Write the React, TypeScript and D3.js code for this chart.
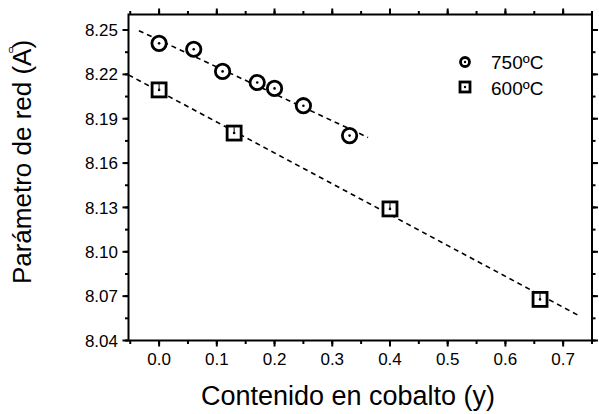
import React from "react";
import * as d3 from "d3";

// Cobalt content (y) and lattice parameter (Å)
const x750 = [0.0, 0.06, 0.11, 0.17, 0.2, 0.25, 0.33];
const a750 = [8.241, 8.237, 8.222, 8.2145, 8.2105, 8.1988, 8.1786];
const x600 = [0.0, 0.13, 0.4, 0.66];
const a600 = [8.2095, 8.1803, 8.129, 8.0678];
const err600 = [0.004, 0.004, 0.004, 0.004];

// Linear fits: [intercept, slope, xStart, xEnd]
const fit750 = [8.2432, -0.182, -0.035, 0.362];
const fit600 = [8.2086, -0.2087, -0.053, 0.725];

const xTicks = [0.0, 0.1, 0.2, 0.3, 0.4, 0.5, 0.6, 0.7];
const yTicks = [8.04, 8.07, 8.1, 8.13, 8.16, 8.19, 8.22, 8.25];
const legendLabels = ["750ºC", "600ºC"];

const W = 599;
const H = 414;
const L = 128.5;
const R = 592;
const T = 14.5;
const B = 340.5;
const FONT = "'Liberation Sans', Arial, Helvetica, sans-serif";

export default function App() {
  const x = d3.scaleLinear().domain([-0.053, 0.75]).range([L, R]);
  const y = d3.scaleLinear().domain([8.04, 8.2605]).range([B, T]);

  const xMinor = d3.range(-0.05, 0.751, 0.05).filter((v) => x(v) >= L - 0.5 && x(v) <= R + 0.5);
  const yMinor = d3.range(8.04, 8.261, 0.015);

  const fitPath = (f: number[]) => {
    const [b0, b1, xs, xe] = f;
    return `M${x(xs)},${y(b0 + b1 * xs)}L${x(xe)},${y(b0 + b1 * xe)}`;
  };

  const major = 6;
  const minor = 3.5;

  return (
    <svg width={W} height={H} style={{ display: "block", position: "absolute", left: 0, top: 0, background: "#fff" }} fontFamily={FONT}>
      <rect x={0} y={0} width={W} height={H} fill="#fff" />
      {/* fit lines */}
      <path d={fitPath(fit750)} stroke="#000" strokeWidth={1.6} strokeDasharray="5,4" fill="none" />
      <path d={fitPath(fit600)} stroke="#000" strokeWidth={1.6} strokeDasharray="5,4" fill="none" />

      {/* 750 ºC points */}
      {x750.map((v, i) => (
        <g key={"c" + i}>
          <circle cx={x(v)} cy={y(a750[i])} r={7.2} fill="#fff" stroke="#000" strokeWidth={2.8} />
          <circle cx={x(v)} cy={y(a750[i])} r={1.3} fill="#000" />
        </g>
      ))}

      {/* 600 ºC points */}
      {x600.map((v, i) => (
        <g key={"s" + i}>
          <rect x={x(v) - 7} y={y(a600[i]) - 7} width={14} height={14} fill="#fff" stroke="#000" strokeWidth={2.8} />
          <line x1={x(v)} x2={x(v)} y1={y(a600[i])} y2={y(a600[i] + err600[i])} stroke="#000" strokeWidth={1} />
          <circle cx={x(v)} cy={y(a600[i])} r={1.3} fill="#000" />
        </g>
      ))}

      {/* frame */}
      <rect x={L} y={T} width={R - L} height={B - T} fill="none" stroke="#000" strokeWidth={2} />

      {/* x ticks */}
      {xTicks.map((v) => (
        <g key={"xt" + v}>
          <line x1={x(v)} x2={x(v)} y1={B} y2={B + major} stroke="#000" strokeWidth={2} />
          <line x1={x(v)} x2={x(v)} y1={T} y2={T - major} stroke="#000" strokeWidth={2} />
          <text x={x(v)} y={365} fontSize={17} textAnchor="middle" fill="#000">
            {d3.format(".1f")(v)}
          </text>
        </g>
      ))}
      {xMinor.map((v, i) => (
        <g key={"xm" + i}>
          <line x1={x(v)} x2={x(v)} y1={B} y2={B + minor} stroke="#000" strokeWidth={2} />
          <line x1={x(v)} x2={x(v)} y1={T} y2={T - minor} stroke="#000" strokeWidth={2} />
        </g>
      ))}

      {/* y ticks */}
      {yTicks.map((v) => (
        <g key={"yt" + v}>
          <line x1={L} x2={L - major} y1={y(v)} y2={y(v)} stroke="#000" strokeWidth={2} />
          <line x1={R} x2={R + major} y1={y(v)} y2={y(v)} stroke="#000" strokeWidth={2} />
          <text x={118} y={y(v)} dy="0.36em" fontSize={17} textAnchor="end" fill="#000">
            {d3.format(".2f")(v)}
          </text>
        </g>
      ))}
      {yMinor.map((v, i) => (
        <g key={"ym" + i}>
          <line x1={L} x2={L - minor} y1={y(v)} y2={y(v)} stroke="#000" strokeWidth={2} />
          <line x1={R} x2={R + minor} y1={y(v)} y2={y(v)} stroke="#000" strokeWidth={2} />
        </g>
      ))}

      {/* legend */}
      <circle cx={465} cy={62} r={4.5} fill="#fff" stroke="#000" strokeWidth={2.8} />
      <circle cx={465} cy={62} r={1.2} fill="#000" />
      <text x={491} y={69} fontSize={19} fill="#000">{legendLabels[0]}</text>
      <rect x={460} y={82} width={10} height={10} fill="#fff" stroke="#000" strokeWidth={2.8} />
      <circle cx={465} cy={87} r={1.2} fill="#000" />
      <text x={491} y={95} fontSize={19} fill="#000">{legendLabels[1]}</text>

      {/* axis titles */}
      <text x={348} y={405} fontSize={27} textAnchor="middle" fill="#000">
        Contenido en cobalto (y)
      </text>
      <text transform="translate(31,162) rotate(-90)" fontSize={26} textAnchor="middle" fill="#000">
        Parámetro de red (A)
      </text>
      <text x={11} y={53} fontSize={9} textAnchor="middle" fill="#000">0</text>
    </svg>
  );
}
